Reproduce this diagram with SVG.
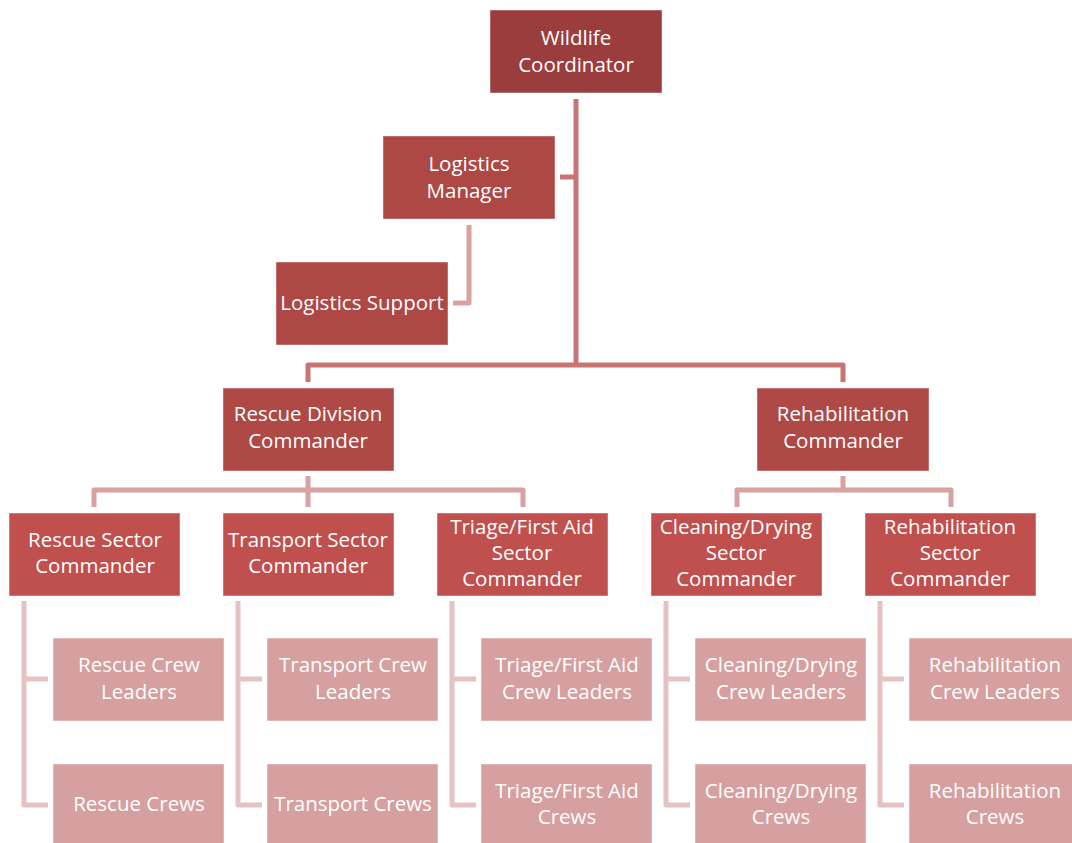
<svg xmlns="http://www.w3.org/2000/svg" width="1072" height="843" viewBox="0 0 1072 843">
  <style>
    .box { stroke: #ffffff; stroke-opacity: 0.45; stroke-width: 1; }
    .top { fill: #9B3D3D; }
    .log { fill: #AD4845; }
    .l2 { fill: #AE4946; }
    .l3 { fill: #C0504D; }
    .l4 { fill: #D6A0A0; }
    .lbl { font-family: "Open Sans", Lato, "Liberation Sans", sans-serif; font-size: 20.5px; fill: #ffffff; text-anchor: middle; }
    .c { fill: none; stroke-width: 5; stroke-linejoin: round; }
    .c1 { stroke: #C87472; }
    .c2 { stroke: #D9A2A1; }
    .c3 { stroke: #E6C2C2; }
  </style>
  <rect width="1072" height="843" fill="#ffffff"/>

  <!-- connectors -->
  <g id="connectors">
    <path class="c c1" d="M576 99 V365"/>
    <path class="c c1" d="M560 177 H576"/>
    <path class="c c2" d="M469 225 V303 H453"/>
    <path class="c c1" d="M308 382 V365 H843 V382"/>
    <path class="c c2" d="M308 476 V490"/>
    <path class="c c2" d="M94 507 V490 H523 V507"/>
    <path class="c c2" d="M308 490 V507"/>
    <path class="c c2" d="M843 476 V490"/>
    <path class="c c2" d="M737 507 V490 H951 V507"/>
    <path class="c c3" d="M24 601 V805 H48 M24 679 H48"/>
    <path class="c c3" d="M238 601 V805 H262 M238 679 H262"/>
    <path class="c c3" d="M452 601 V805 H476 M452 679 H476"/>
    <path class="c c3" d="M666 601 V805 H690 M666 679 H690"/>
    <path class="c c3" d="M880 601 V805 H904 M880 679 H904"/>
  </g>

  <g id="wildlife-coordinator">
    <rect class="box top" x="490" y="10" width="172" height="83"/>
    <text class="lbl" x="576" y="45">Wildlife</text>
    <text class="lbl" x="576" y="72">Coordinator</text>
  </g>
  <g id="logistics-manager">
    <rect class="box log" x="383" y="136" width="172" height="83"/>
    <text class="lbl" x="469" y="171">Logistics</text>
    <text class="lbl" x="469" y="198">Manager</text>
  </g>
  <g id="logistics-support">
    <rect class="box log" x="276" y="262" width="172" height="83"/>
    <text class="lbl" x="362" y="310">Logistics Support</text>
  </g>

  <g id="rescue-division-commander">
    <rect class="box l2" x="223" y="388" width="171" height="83"/>
    <text class="lbl" x="308" y="421">Rescue Division</text>
    <text class="lbl" x="308" y="448">Commander</text>
  </g>
  <g id="rehabilitation-commander">
    <rect class="box l2" x="757" y="388" width="172" height="83"/>
    <text class="lbl" x="843" y="421">Rehabilitation</text>
    <text class="lbl" x="843" y="448">Commander</text>
  </g>

  <g id="rescue-sector-commander">
    <rect class="box l3" x="9" y="513" width="171" height="83"/>
    <text class="lbl" x="95" y="547">Rescue Sector</text>
    <text class="lbl" x="95" y="573">Commander</text>
  </g>
  <g id="transport-sector-commander">
    <rect class="box l3" x="223" y="513" width="171" height="83"/>
    <text class="lbl" x="308" y="547">Transport Sector</text>
    <text class="lbl" x="308" y="573">Commander</text>
  </g>
  <g id="triage-sector-commander">
    <rect class="box l3" x="437" y="513" width="171" height="83"/>
    <text class="lbl" x="522" y="534">Triage/First Aid</text>
    <text class="lbl" x="522" y="560">Sector</text>
    <text class="lbl" x="522" y="586">Commander</text>
  </g>
  <g id="cleaning-sector-commander">
    <rect class="box l3" x="651" y="513" width="171" height="83"/>
    <text class="lbl" x="736" y="534">Cleaning/Drying</text>
    <text class="lbl" x="736" y="560">Sector</text>
    <text class="lbl" x="736" y="586">Commander</text>
  </g>
  <g id="rehabilitation-sector-commander">
    <rect class="box l3" x="865" y="513" width="171" height="83"/>
    <text class="lbl" x="950" y="534">Rehabilitation</text>
    <text class="lbl" x="950" y="560">Sector</text>
    <text class="lbl" x="950" y="586">Commander</text>
  </g>

  <g id="rescue-crew-leaders">
    <rect class="box l4" x="53" y="638" width="171" height="83"/>
    <text class="lbl" x="139" y="672">Rescue Crew</text>
    <text class="lbl" x="139" y="699">Leaders</text>
  </g>
  <g id="rescue-crews">
    <rect class="box l4" x="53" y="764" width="171" height="83"/>
    <text class="lbl" x="139" y="811">Rescue Crews</text>
  </g>
  <g id="transport-crew-leaders">
    <rect class="box l4" x="267" y="638" width="171" height="83"/>
    <text class="lbl" x="353" y="672">Transport Crew</text>
    <text class="lbl" x="353" y="699">Leaders</text>
  </g>
  <g id="transport-crews">
    <rect class="box l4" x="267" y="764" width="171" height="83"/>
    <text class="lbl" x="353" y="811">Transport Crews</text>
  </g>
  <g id="triage-crew-leaders">
    <rect class="box l4" x="481" y="638" width="171" height="83"/>
    <text class="lbl" x="567" y="672">Triage/First Aid</text>
    <text class="lbl" x="567" y="699">Crew Leaders</text>
  </g>
  <g id="triage-crews">
    <rect class="box l4" x="481" y="764" width="171" height="83"/>
    <text class="lbl" x="567" y="798">Triage/First Aid</text>
    <text class="lbl" x="567" y="824">Crews</text>
  </g>
  <g id="cleaning-crew-leaders">
    <rect class="box l4" x="695" y="638" width="171" height="83"/>
    <text class="lbl" x="781" y="672">Cleaning/Drying</text>
    <text class="lbl" x="781" y="699">Crew Leaders</text>
  </g>
  <g id="cleaning-crews">
    <rect class="box l4" x="695" y="764" width="171" height="83"/>
    <text class="lbl" x="781" y="798">Cleaning/Drying</text>
    <text class="lbl" x="781" y="824">Crews</text>
  </g>
  <g id="rehabilitation-crew-leaders">
    <rect class="box l4" x="909" y="638" width="171" height="83"/>
    <text class="lbl" x="995" y="672">Rehabilitation</text>
    <text class="lbl" x="995" y="699">Crew Leaders</text>
  </g>
  <g id="rehabilitation-crews">
    <rect class="box l4" x="909" y="764" width="171" height="83"/>
    <text class="lbl" x="995" y="798">Rehabilitation</text>
    <text class="lbl" x="995" y="824">Crews</text>
  </g>
</svg>
